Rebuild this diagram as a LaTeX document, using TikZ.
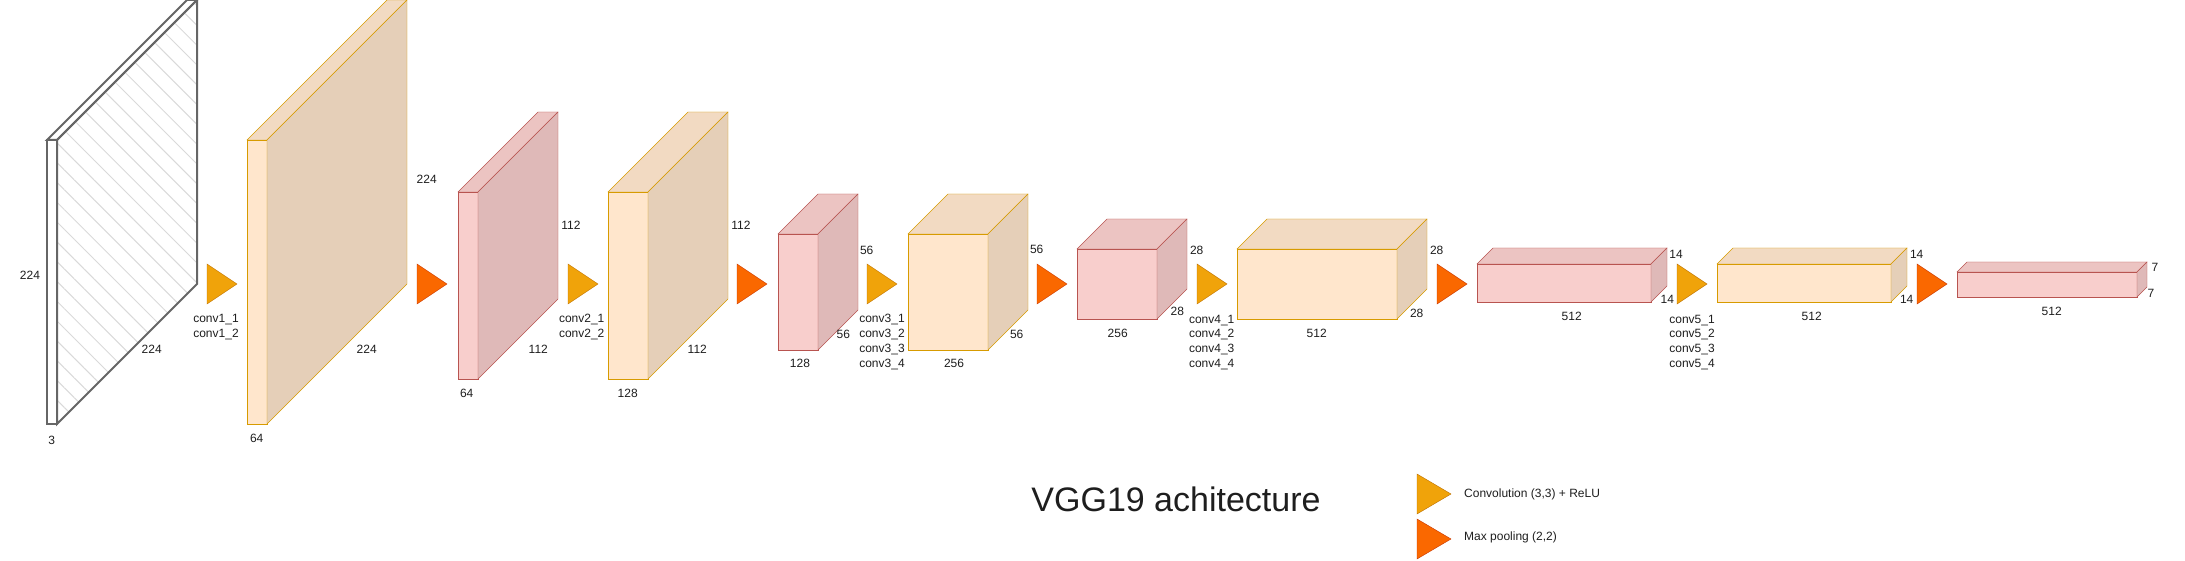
\documentclass[tikz,border=0pt]{standalone}
\usepackage{fontspec}
\setmainfont{Liberation Sans}
\usepackage{tikz}
\usetikzlibrary{patterns.meta}

\definecolor{orgfill}{HTML}{FFE6CC}
\definecolor{orgline}{HTML}{D79B00}
\definecolor{redfill}{HTML}{F8CECC}
\definecolor{redline}{HTML}{B85450}
\definecolor{convfill}{HTML}{F0A30A}
\definecolor{convline}{HTML}{BD7000}
\definecolor{poolfill}{HTML}{FA6800}
\definecolor{poolline}{HTML}{C73500}
\definecolor{inpline}{HTML}{666666}
\definecolor{txt}{HTML}{1E1E1E}

% feature map as a box: x, y (top left of front), width, height, depth, colour set
\newcommand{\fmap}[6]{%
  \filldraw[#6front] (#1,#2) rectangle ++(#3,#4);
  \filldraw[#6top] (#1,#2) -- ++(#5,-#5) -- ++(#3,0) -- ++(-#5,#5) -- cycle;
  \filldraw[#6side] (#1+#3,#2) -- ++(#5,-#5) -- ++(0,#4) -- ++(-#5,#5) -- cycle;
}
% layer triangle: x, y (top left), width, style
\newcommand{\ktri}[4]{\filldraw[#4] (#1,#2) -- ++(#3,20) -- ++(-#3,20) -- cycle;}

\begin{document}
\begin{tikzpicture}[x=1pt,y=-1pt]
\tikzstyle{inpfront}=[draw=inpline, line width=2pt, fill=white]
\tikzstyle{inptop}=[draw=inpline, line width=2pt, fill=white]
\tikzstyle{inpside}=[draw=inpline, line width=2pt,
pattern={Lines[angle=-45,distance=14pt,line width=1pt]}, pattern color=gray!30]
\tikzstyle{orgfront}=[draw=orgline, fill=orgfill]
\tikzstyle{orgtop}=[draw=orgline, fill=orgfill!95!black]
\tikzstyle{orgside}=[draw=orgline, fill=orgfill!90!black]
\tikzstyle{redfront}=[draw=redline, fill=redfill]
\tikzstyle{redtop}=[draw=redline, fill=redfill!95!black]
\tikzstyle{redside}=[draw=redline, fill=redfill!90!black]
\tikzstyle{conv}=[draw=convline, fill=convfill]
\tikzstyle{pool}=[draw=poolline, fill=poolfill]
\tikzstyle{lbl}=[inner sep=0, text=txt, align=center, font=\fontsize{12}{14.7}\selectfont]

\useasboundingbox (0,0) rectangle (2185,561);

% feature maps
\fmap{47}{140}{10}{284}{140}{inp}
\fmap{247}{140}{20}{284}{140}{org}
\fmap{458}{192}{20}{187}{80}{red}
\fmap{608}{192}{40}{187}{80}{org}
\fmap{778}{234}{40}{116}{40}{red}
\fmap{908}{234}{80}{116}{40}{org}
\fmap{1077}{249}{80}{70}{30}{red}
\fmap{1237}{249}{160}{70}{30}{org}
\fmap{1477}{264}{174}{38}{16}{red}
\fmap{1717}{264}{174}{38}{16}{org}
\fmap{1957}{272}{180}{25}{10}{red}

% layers
\ktri{207}{264}{30}{conv}
\ktri{417}{264}{30}{pool}
\ktri{568}{264}{30}{conv}
\ktri{737}{264}{30}{pool}
\ktri{867}{264}{30}{conv}
\ktri{1037}{264}{30}{pool}
\ktri{1197}{264}{30}{conv}
\ktri{1437}{264}{30}{pool}
\ktri{1677}{264}{30}{conv}
\ktri{1917}{264}{30}{pool}

% sizes
\node[lbl] (h0) at (30,275) {224};
\node[lbl] (w0) at (151.7,349.3) {224};
\node[lbl] (n0) at (51.7,440.7) {3};
\node[lbl] (h1) at (426.7,179) {224};
\node[lbl] (w1) at (366.7,349.3) {224};
\node[lbl] (n1) at (256.7,438.7) {64};
\node[lbl] (h2) at (571,225.7) {112};
\node[lbl] (w2) at (538.3,349.3) {112};
\node[lbl] (n2) at (466.7,393.3) {64};
\node[lbl] (h3) at (741,225.7) {112};
\node[lbl] (w3) at (697.3,349.3) {112};
\node[lbl] (n3) at (627.7,393.3) {128};
\node[lbl] (h4) at (866.7,250) {56};
\node[lbl] (w4) at (843.3,334.3) {56};
\node[lbl] (n4) at (800,363.3) {128};
\node[lbl] (h5) at (1036.7,249.3) {56};
\node[lbl] (w5) at (1016.7,334) {56};
\node[lbl] (n5) at (954,363.3) {256};
\node[lbl] (h6) at (1196.7,250.7) {28};
\node[lbl] (w6) at (1177.3,311.7) {28};
\node[lbl] (n6) at (1117.7,333.3) {256};
\node[lbl] (h7) at (1436.7,250.7) {28};
\node[lbl] (w7) at (1416.7,313.3) {28};
\node[lbl] (n7) at (1316.7,333.3) {512};
\node[lbl] (h8) at (1676,254.3) {14};
\node[lbl] (w8) at (1667.3,299) {14};
\node[lbl] (n8) at (1571.7,316.7) {512};
\node[lbl] (h9) at (1916.7,254.3) {14};
\node[lbl] (w9) at (1906.7,299) {14};
\node[lbl] (n9) at (1811.7,316.7) {512};
\node[lbl] (h10) at (2155,267.3) {7};
\node[lbl] (w10) at (2151,293.3) {7};
\node[lbl] (n10) at (2051.7,311.7) {512};

% conv names
\node[lbl] (c1) at (216,327.3) {conv1\_1\\conv1\_2};
\node[lbl] (c2) at (581.7,327.3) {conv2\_1\\conv2\_2};
\node[lbl] (c3) at (882,342) {conv3\_1\\conv3\_2\\conv3\_3\\conv3\_4};
\node[lbl] (c4) at (1211.7,342.3) {conv4\_1\\conv4\_2\\conv4\_3\\conv4\_4};
\node[lbl] (c5) at (1692,342.3) {conv5\_1\\conv5\_2\\conv5\_3\\conv5\_4};

% title and legend
\node[lbl, anchor=base, font=\fontsize{34}{40}\selectfont] (title) at (1176,511.7) {VGG19 achitecture};
\ktri{1417}{474}{34}{conv}
\ktri{1417}{519}{34}{pool}
\node[lbl, anchor=west] (legconv) at (1464,494) {Convolution (3,3) + ReLU};
\node[lbl, anchor=west] (legpool) at (1464,537) {Max pooling (2,2)};

\end{tikzpicture}
\end{document}
